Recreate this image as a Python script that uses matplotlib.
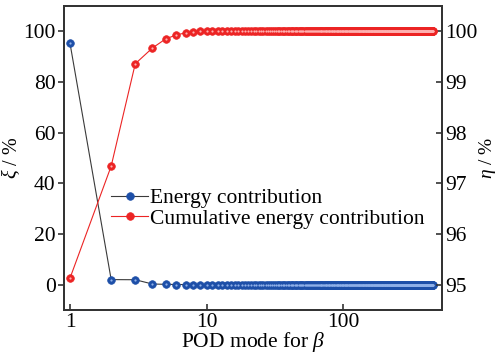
import matplotlib
matplotlib.use("Agg")
import matplotlib.pyplot as plt
import numpy as np

plt.rcParams['font.family'] = ['Liberation Serif', 'DejaVu Serif']
plt.rcParams['mathtext.fontset'] = 'custom'
plt.rcParams['mathtext.rm'] = 'Liberation Serif'
plt.rcParams['mathtext.it'] = 'Liberation Serif:italic'

n_modes = 450
modes = np.arange(1, n_modes + 1)
energy_head = [95.25, 2.0, 1.95, 0.27, 0.13, 0.06, 0.04, 0.03, 0.02, 0.01]
energy = energy_head + [0.0] * (n_modes - len(energy_head))
cum_head = [95.13, 97.34, 99.36, 99.67, 99.85, 99.93, 99.97, 99.99]
cumulative = cum_head + [100.0] * (n_modes - len(cum_head))

blue = '#1d4fa8'
red = '#ec2424'
axc = '#333333'

fig = plt.figure(figsize=(4.99, 3.56), dpi=100)
ax = fig.add_axes([0.1283, 0.1292, 0.7575, 0.8539])
ax2 = ax.twinx()

l1, = ax.plot(modes, energy, color='#3a3a3a', lw=0.8, marker='o', ms=5.5,
              mfc=blue, mec=blue, mew=0.5, label='Energy contribution', zorder=3)
l2, = ax2.plot(modes, cumulative, color=red, lw=0.8, marker='o', ms=5.5,
               mfc=red, mec=red, mew=0.5, label='Cumulative energy contribution', zorder=3)
# sphere highlights
ax.plot(modes, energy, ls='none', marker='o', ms=1.6, mfc='#8fb0e8', mec='none', zorder=4)
ax2.plot(modes, cumulative, ls='none', marker='o', ms=1.6, mfc='#ffb0b0', mec='none', zorder=4)

ax.set_xscale('log')
ax.set_xlim(0.904, 526)
ax.set_ylim(-10, 110)
ax2.set_ylim(94.5, 100.5)
ax.set_xticks([1, 10, 100])
ax.set_xticklabels(['1', '10', '100'])
ax.xaxis.set_minor_locator(matplotlib.ticker.NullLocator())
ax.set_yticks([0, 20, 40, 60, 80, 100])
ax2.set_yticks([95, 96, 97, 98, 99, 100])

fs = 15.5
ax.tick_params(axis='x', direction='in', length=4, width=1.2, color=axc, labelsize=fs, pad=2)
ax.tick_params(axis='y', direction='out', length=4, width=1.2, color=axc, labelsize=fs, pad=2)
ax2.tick_params(axis='y', direction='in', length=4, width=1.2, color=axc, labelsize=fs, pad=2)
for a in (ax, ax2):
    for s in a.spines.values():
        s.set_color(axc)
        s.set_linewidth(1.3)

ax.set_xlabel(r'POD mode for $\beta$', fontsize=fs, labelpad=-1)
ax.set_ylabel(r'$\xi$ / %', fontsize=14.5, labelpad=1)
ax2.set_ylabel(r'$\eta$ / %', fontsize=14, labelpad=0)

ax.legend([l1, l2], ['Energy contribution', 'Cumulative energy contribution'],
          loc='upper left', bbox_to_anchor=(0.125, 0.40), frameon=False,
          fontsize=fs, handlelength=1.7, handletextpad=0.1, labelspacing=0.0,
          borderaxespad=0, borderpad=0)

fig.savefig('out.png', dpi=100)
